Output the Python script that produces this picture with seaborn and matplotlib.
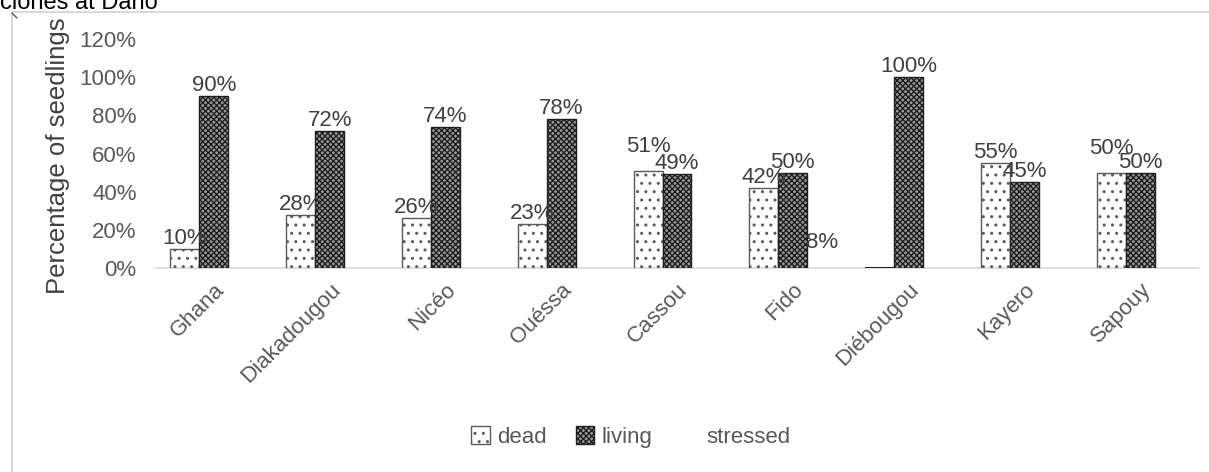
import numpy as np
import pandas as pd
import matplotlib
matplotlib.use("Agg")
import matplotlib.pyplot as plt
import seaborn as sns
from matplotlib.patches import Rectangle, Patch
from matplotlib.lines import Line2D

# Seedling fate per clone origin (percent)
sites = ["Ghana", "Diakadougou", "Nicéo", "Ouéssa", "Cassou", "Fido",
         "Diébougou", "Kayero", "Sapouy"]
dead = [10, 28, 26, 23, 51, 42, 0, 55, 50]
living = [90, 72, 74, 78, 49, 50, 100, 45, 50]
stressed = [np.nan, np.nan, np.nan, np.nan, np.nan, 8, np.nan, np.nan, np.nan]
series = ["dead", "living", "stressed"]
y_ticks = [0, 20, 40, 60, 80, 100, 120]

df = pd.DataFrame({
    "site": sites * 3,
    "fate": [s for s in series for _ in sites],
    "pct": dead + living + stressed,
})

sns.set_theme(style="white")
plt.rcParams["font.family"] = ["Liberation Sans", "DejaVu Sans"]
plt.rcParams["hatch.linewidth"] = 1.0
TXT = "#595959"

fig = plt.figure(figsize=(12.09, 4.72), dpi=100)
ax = fig.add_axes([156 / 1209, 1 - 268 / 472, 1042 / 1209, 229 / 472])

sns.barplot(data=df, x="site", y="pct", hue="fate", order=sites,
            hue_order=series, errorbar=None, width=0.75, gap=0,
            ax=ax, legend=False)

styles = {
    "dead": dict(fc="white", ec="#5a5a5a", hatch=".."),
    "living": dict(fc="#9c9c9c", ec="#1e1e1e", hatch="xxxxxx"),
    "stressed": dict(fc="none", ec="none", hatch=None),
}
for cont, name in zip(ax.containers, series):
    st = styles[name]
    for p in cont:
        p.set_facecolor(st["fc"])
        p.set_edgecolor(st["ec"])
        p.set_hatch(st["hatch"])
        p.set_linewidth(1.0)
        p.set_zorder(3)
        if p.get_height() == 0:
            p.set_edgecolor("#262626")
            p.set_linewidth(1.5)

# Value labels; a "dead" label is lifted when its neighbour has nearly the same height
liv_bars = {round(p.get_x(), 3): p.get_height() for p in ax.containers[1]}
for cont, name in zip(ax.containers, series):
    for p in cont:
        h = p.get_height()
        if not h > 0:
            continue
        pad = 0
        if name == "dead":
            other = liv_bars.get(round(p.get_x() + p.get_width(), 3))
            if other is not None and abs(other - h) <= 3:
                pad = 10
        ax.annotate(f"{h:.0f}%", (p.get_x() + p.get_width() / 2, h),
                    xytext=(0, pad), textcoords="offset points",
                    ha="center", va="bottom", fontsize=16, color="#404040",
                    zorder=4)

ax.set_ylim(0, 120)
ax.set_yticks(y_ticks)
ax.set_yticklabels([f"{t}%" for t in y_ticks])
ax.set_xlim(-0.5, len(sites) - 0.5)
ax.tick_params(axis="y", length=0, pad=14, labelsize=16, labelcolor=TXT)
ax.tick_params(axis="x", length=0, pad=8, labelsize=16, labelcolor=TXT)
plt.setp(ax.get_xticklabels(), rotation=45, ha="right", rotation_mode="anchor")
ax.set_xlabel("")
ax.set_ylabel("Percentage of seedlings", fontsize=18.5, color="#404040")
ax.yaxis.set_label_coords(-0.083, 0.49)

for side in ["top", "right", "left"]:
    ax.spines[side].set_visible(False)
ax.spines["bottom"].set_color("#d9d9d9")
ax.spines["bottom"].set_linewidth(1.2)

# Legend
handles = [
    Patch(facecolor="white", edgecolor="#5a5a5a", hatch="..", label="dead"),
    Patch(facecolor="#9c9c9c", edgecolor="#1e1e1e", hatch="xxxxxx", label="living"),
    Patch(facecolor="none", edgecolor="none", label="stressed"),
]
fig.legend(handles=handles, loc="center", bbox_to_anchor=(631 / 1209, 1 - 437 / 472),
           ncol=3, frameon=False, fontsize=16, labelcolor=TXT,
           handlelength=0.85, handleheight=0.85, handletextpad=0.3,
           columnspacing=1.3)

# Chart-area border and caption
fig.add_artist(Rectangle((12 / 1209, -0.1), 1.1, 1 - 12 / 472 + 0.1,
                         transform=fig.transFigure, fill=False,
                         ec="#d9d9d9", lw=1.5))
fig.add_artist(Line2D([12 / 1209, 17 / 1209], [1 - 13 / 472, 1 - 18 / 472],
                      transform=fig.transFigure, color="#555555", lw=1))
fig.text(0.0, 1 - 9 / 472, "clones at Dano", ha="left", va="baseline",
         fontsize=17, color="black")

fig.savefig("out.png", dpi=100)
